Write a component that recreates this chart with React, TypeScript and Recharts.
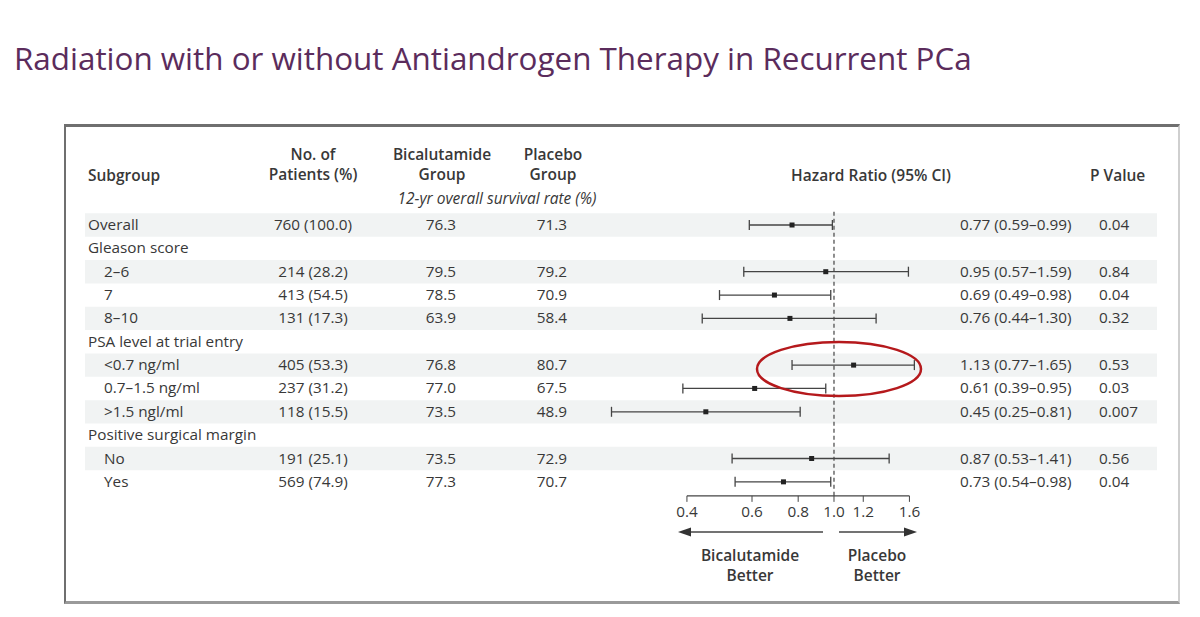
import React from "react";
import {
  ScatterChart,
  Scatter,
  XAxis,
  YAxis,
  ErrorBar,
  ReferenceLine,
  ReferenceArea,
} from "recharts";

// table rows, top to bottom
const SUBGROUPS = [
  "Overall",
  "Gleason score",
  "2–6",
  "7",
  "8–10",
  "PSA level at trial entry",
  "<0.7 ng/ml",
  "0.7–1.5 ng/ml",
  ">1.5 ngl/ml",
  "Positive surgical margin",
  "No",
  "Yes",
];
const INDENTED = [false, false, true, true, true, false, true, true, true, false, true, true];
const PATIENTS = ["760 (100.0)", "", "214 (28.2)", "413 (54.5)", "131 (17.3)", "", "405 (53.3)", "237 (31.2)", "118 (15.5)", "", "191 (25.1)", "569 (74.9)"];
const BICAL_RATE = ["76.3", "", "79.5", "78.5", "63.9", "", "76.8", "77.0", "73.5", "", "73.5", "77.3"];
const PLACEBO_RATE = ["71.3", "", "79.2", "70.9", "58.4", "", "80.7", "67.5", "48.9", "", "72.9", "70.7"];
const HR = [0.77, null, 0.95, 0.69, 0.76, null, 1.13, 0.61, 0.45, null, 0.87, 0.73];
const CI_LOW = [0.59, null, 0.57, 0.49, 0.44, null, 0.77, 0.39, 0.25, null, 0.53, 0.54];
const CI_HIGH = [0.99, null, 1.59, 0.98, 1.3, null, 1.65, 0.95, 0.81, null, 1.41, 0.98];
const P_VALUES = ["0.04", "", "0.84", "0.04", "0.32", "", "0.53", "0.03", "0.007", "", "0.56", "0.04"];
const AXIS_TICKS = [0.4, 0.6, 0.8, 1.0, 1.2, 1.6];
const SHADED_ROWS = [0, 2, 4, 6, 8, 10];

const FONT = "'Open Sans', 'DejaVu Sans', sans-serif";
const TEXT = "#383838";
const LINE = "#444";
const BODY_SIZE = 15.3;

const rows = SUBGROUPS.map((name, i) => ({ row: i, name }));
const forestRows = HR.map((hr, i) =>
  hr == null
    ? null
    : { row: i, hr, err: [hr - (CI_LOW[i] as number), (CI_HIGH[i] as number) - hr] }
).filter(Boolean);

// log x-domain chosen so the plot spans the full table width (0.4 -> 687px, 1.6 -> 911px)
const X_DOMAIN = [0.009404, 7.482];
const Y_DOMAIN = [-0.64, 11.6];

function RowTick(props: any) {
  const { y, payload } = props;
  const i = payload.value;
  if (i < 0 || i >= rows.length) return null;
  const t = { fontFamily: FONT, fontSize: BODY_SIZE, fill: TEXT };
  return (
    <g>
      <text x={INDENTED[i] ? 104 : 88} y={y} dy={5} {...t}>
        {SUBGROUPS[i]}
      </text>
      <text x={313} y={y} dy={5} textAnchor="middle" {...t}>
        {PATIENTS[i]}
      </text>
      <text x={441} y={y} dy={5} textAnchor="middle" {...t}>
        {BICAL_RATE[i]}
      </text>
      <text x={552} y={y} dy={5} textAnchor="middle" {...t}>
        {PLACEBO_RATE[i]}
      </text>
      {HR[i] != null && (
        <text x={960} y={y} dy={5} {...t}>
          {`${HR[i]!.toFixed(2)} (${CI_LOW[i]!.toFixed(2)}–${CI_HIGH[i]!.toFixed(2)})`}
        </text>
      )}
      <text x={1099} y={y} dy={5} {...t}>
        {P_VALUES[i]}
      </text>
    </g>
  );
}

const SquareDot = (props: any) => (
  <rect x={props.cx - 2.5} y={props.cy - 2.5} width={5} height={5} fill="#222" />
);

const head: React.CSSProperties = {
  position: "absolute",
  fontFamily: FONT,
  fontSize: 15.5,
  fontWeight: 600,
  color: TEXT,
  lineHeight: "20px",
  textAlign: "center",
  whiteSpace: "nowrap",
};

export default function App() {
  return (
    <div style={{ position: "absolute", left: 0, top: 0, width: 1200, height: 617, background: "#fff", overflow: "hidden" }}>
      <div
        style={{
          position: "absolute",
          left: 14,
          top: 38,
          fontFamily: FONT,
          fontSize: 31.4,
          lineHeight: "40px",
          color: "#5b2c5c",
          whiteSpace: "nowrap",
        }}
      >
        Radiation with or without Antiandrogen Therapy in Recurrent PCa
      </div>

      <div
        style={{
          position: "absolute",
          left: 64,
          top: 124,
          width: 1112,
          height: 474,
          borderTop: "3px solid #6f6f6f",
          borderLeft: "2px solid #6f6f6f",
          borderRight: "2px solid #cfcfcf",
          borderBottom: "3px solid #9a9a9a",
        }}
      />

      <div style={{ ...head, left: 88, top: 165, textAlign: "left" }}>Subgroup</div>
      <div style={{ ...head, left: 253, width: 120, top: 144 }}>
        No. of
        <br />
        Patients (%)
      </div>
      <div style={{ ...head, left: 382, width: 120, top: 144 }}>
        Bicalutamide
        <br />
        Group
      </div>
      <div style={{ ...head, left: 493, width: 120, top: 144 }}>
        Placebo
        <br />
        Group
      </div>
      <div style={{ ...head, left: 397, width: 200, top: 188, fontWeight: 400, fontStyle: "italic" }}>
        12-yr overall survival rate (%)
      </div>
      <div style={{ ...head, left: 771, width: 200, top: 165 }}>Hazard Ratio (95% CI)</div>
      <div style={{ ...head, left: 1090, top: 165, textAlign: "left" }}>P Value</div>

      <div style={{ position: "absolute", left: 0, top: 0 }}>
        <ScatterChart
          width={1200}
          height={617}
          margin={{ top: 210.06, right: 43, bottom: 91.14, left: 65 }}
          style={{ fontFamily: FONT }}
        >
          {SHADED_ROWS.map((r) => (
            <ReferenceArea key={r} y1={r - 0.5} y2={r + 0.5} fill="#f1f3f3" fillOpacity={1} stroke="none" ifOverflow="visible" />
          ))}
          <XAxis
            type="number"
            dataKey="hr"
            scale="log"
            domain={X_DOMAIN}
            allowDataOverflow
            ticks={AXIS_TICKS}
            interval={0}
            tickFormatter={(v: number) => v.toFixed(1)}
            axisLine={false}
            tickLine={{ stroke: LINE }}
            tickSize={6}
            tickMargin={4}
            height={30}
            tick={{ fill: TEXT, fontSize: BODY_SIZE, fontFamily: FONT }}
          />
          <YAxis
            type="number"
            dataKey="row"
            domain={Y_DOMAIN}
            reversed
            allowDataOverflow
            ticks={rows.map((r) => r.row)}
            interval={0}
            axisLine={false}
            tickLine={false}
            width={20}
            tick={<RowTick />}
          />
          <ReferenceLine
            segment={[
              { x: AXIS_TICKS[0], y: Y_DOMAIN[1] },
              { x: AXIS_TICKS[AXIS_TICKS.length - 1], y: Y_DOMAIN[1] },
            ]}
            stroke={LINE}
            strokeWidth={1.2}
          />
          <ReferenceLine x={1} stroke={LINE} strokeWidth={1.2} strokeDasharray="4 3" />
          <Scatter data={forestRows as any[]} shape={<SquareDot />} isAnimationActive={false}>
            <ErrorBar dataKey="err" direction="x" width={5} stroke={LINE} strokeWidth={1.3} isAnimationActive={false} />
          </Scatter>
        </ScatterChart>
      </div>

      <svg width={1200} height={617} style={{ position: "absolute", left: 0, top: 0, pointerEvents: "none" }}>
        <line x1={823} y1={532} x2={688} y2={532} stroke={LINE} strokeWidth={1.5} />
        <polygon points="678,532 691,527.5 691,536.5" fill="#333" />
        <line x1={839} y1={532} x2={906} y2={532} stroke={LINE} strokeWidth={1.5} />
        <polygon points="917,532 904,527.5 904,536.5" fill="#333" />
        <ellipse cx={839} cy={369} rx={82} ry={27} fill="none" stroke="#b5191c" strokeWidth={2.5} />
      </svg>

      <div style={{ ...head, left: 690, width: 120, top: 545 }}>
        Bicalutamide
        <br />
        Better
      </div>
      <div style={{ ...head, left: 817, width: 120, top: 545 }}>
        Placebo
        <br />
        Better
      </div>
    </div>
  );
}
